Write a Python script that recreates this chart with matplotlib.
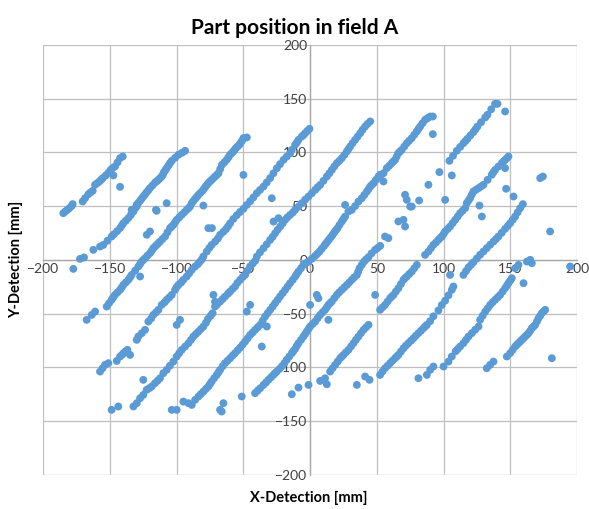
import matplotlib
matplotlib.use("Agg")
import matplotlib.pyplot as plt

# Detected part positions [mm], grouped by the diagonal row they lie on
row1_x = [-184.8, -181.8, -178.5, -177.8, -170.3, -168.5, -166.0, -162.8, -161.0, -157.8, -155.3,
          -149.3, -146.1, -142.3, -140.3, -147.3, -142.3,
          -183.3, -180.2, -164.4, -159.4, -156.5, -153.0, -151.0, -144.2, -148.0]
row1_y = [43.4, 46.5, 50.2, 51.8, 54.3, 57.4, 61.1, 64.2, 69.8, 72.9, 76.0,
          83.7, 86.8, 94.6, 96.1, 78.5, 67.9,
          45.0, 48.1, 62.7, 71.3, 74.4, 78.5, 81.0, 90.7, 85.3]

row2_x = [-177.3, -172.3, -169.3, -162.3, -157.3, -154.8, -148.6, -146.8, -142.3, -139.8, -136.1,
          -132.3, -129.8, -133.6, -129.8, -127.3, -124.9, -122.4, -119.9, -116.1, -113.6, -111.1,
          -109.4, -107.4, -104.9, -103.6, -98.6, -93.6, -115.4, -107.4,
          -151.7, -144.5, -141.0, -138.0, -134.2, -131.0, -128.6, -126.1, -123.6, -121.1, -118.0,
          -114.8, -112.3, -110.2, -108.4, -106.1, -101.0, -96.0]
row2_y = [-8.4, 0.9, 2.2, 9.3, 12.4, 13.9, 21.7, 23.9, 29.5, 34.1, 38.8,
          44.9, 49.6, 46.5, 51.2, 54.9, 58.9, 62.9, 66.7, 71.9, 74.4, 77.5,
          81.6, 85.3, 90.0, 92.1, 97.7, 101.4, 46.5, 52.7,
          17.8, 26.7, 31.8, 36.4, 41.8, 48.0, 53.0, 56.9, 60.9, 64.8, 69.3,
          73.1, 76.0, 79.5, 83.4, 87.6, 95.0, 99.5]

row3_x = [-167.3, -163.5, -161.0, -152.3, -148.6, -146.1, -142.3, -139.8, -136.1, -133.6, -128.6,
          -126.1, -123.6, -119.9, -117.4, -114.9, -112.4, -108.6, -104.9, -102.4, -99.9, -96.1,
          -92.4, -89.9, -88.6, -86.1, -83.6, -80.6, -78.2, -76.2, -73.7, -71.1, -68.6, -66.0,
          -62.5, -60.0, -57.5, -55.5, -53.0, -51.0, -49.9, -47.4,
          -127.3, -122.3, -119.9, -114.9, -79.9,
          -150.5, -147.4, -144.2, -141.0, -138.0, -134.8, -131.0, -127.3, -124.8, -121.8, -118.6,
          -116.1, -113.6, -110.5, -106.8, -103.6, -101.1, -98.0, -94.2, -91.1, -87.4, -84.8,
          -82.1, -79.4, -77.2, -75.0, -72.4, -69.8, -67.3, -64.2, -61.2, -58.7, -56.5, -54.2, -52.0]
row3_y = [-55.8, -51.2, -48.1, -43.4, -37.2, -32.6, -27.9, -23.3, -18.6, -14.0, -6.2,
          -1.6, 1.5, 6.2, 10.8, 13.9, 17.0, 21.7, 29.5, 32.6, 37.2, 41.9,
          46.5, 49.6, 52.7, 56.7, 60.5, 64.2, 68.2, 71.3, 74.4, 77.5, 80.6, 88.4,
          93.0, 97.7, 100.8, 104.0, 107.0, 110.7, 113.2, 113.8,
          -15.5, 23.3, 26.4, 45.6, 50.5,
          -40.3, -34.9, -30.2, -25.6, -21.0, -16.3, -10.0, -3.9, 0.0, 3.9, 8.5,
          12.4, 15.5, 19.4, 25.6, 31.0, 34.9, 39.5, 44.2, 48.0, 54.7, 58.6,
          62.3, 66.2, 69.8, 72.9, 76.0, 79.0, 84.5, 90.7, 95.3, 99.2, 102.4, 105.5, 108.8]

row4_x = [-157.3, -153.6, -151.1, -144.8, -142.3, -139.8, -136.8, -134.8, -129.8, -128.6, -123.6,
          -121.1, -117.4, -113.6, -111.1, -107.4, -103.6, -101.1, -98.6, -94.9, -92.4, -88.6,
          -86.1, -82.4, -79.9, -77.4, -73.7, -71.1, -67.4, -63.0, -59.9, -54.9, -49.9, -44.9,
          -39.9, -34.9, -29.9, -24.9, -19.9, -15.0, -13.7, -11.2, -8.7, -6.2, -3.7, -0.5,
          -124.9, -76.2, -73.5, -49.9, -28.7,
          -155.4, -140.9, -138.3, -126.0, -119.0, -115.5, -109.0, -105.5, -100.0, -96.5, -90.5,
          -84.0, -81.0, -75.5, -69.0, -65.0, -61.5, -57.5, -52.5, -47.5, -42.5, -37.5,
          -32.5, -27.5, -22.5, -17.5, -10.0, -5.0, -2.0]
row4_y = [-103.9, -97.7, -96.1, -94.0, -89.9, -86.8, -83.7, -88.4, -74.4, -71.3, -65.1,
          -57.4, -51.2, -46.5, -41.9, -37.2, -32.6, -27.9, -23.3, -18.6, -15.5, -9.3,
          -6.2, -1.6, 3.1, 7.7, 13.9, 17.0, 23.3, 28.5, 34.0, 41.5, 47.5, 54.5,
          62.0, 68.2, 76.0, 85.2, 93.0, 99.2, 102.3, 107.0, 111.6, 114.7, 117.8, 121.9,
          -111.6, 29.5, 29.5, 79.0, 57.3,
          -100.8, -88.4, -85.2, -68.2, -54.5, -49.0, -39.5, -35.0, -25.5, -21.0, -12.5,
          -4.0, 0.5, 11.0, 20.0, 26.0, 31.0, 38.0, 44.5, 51.0, 58.0, 65.0,
          72.0, 80.5, 89.0, 96.0, 109.0, 116.0, 120.0]

row5_x = [-148.6, -143.6, -132.3, -129.8, -127.3, -124.9, -122.4, -118.6, -116.1, -112.4, -109.9,
          -107.4, -102.4, -99.9, -96.1, -93.6, -91.1, -87.4, -83.6, -79.9, -76.5, -73.0,
          -71.2, -67.4, -63.7, -59.9, -56.2, -52.4, -48.7, -44.9, -41.2, -39.9, -34.9, -29.9,
          -26.2, -22.4, -18.7, -15.0, -11.2, -6.2, -1.2, 3.8, 7.5, 12.5, 16.3, 20.0,
          23.7, 27.5, 30.0, 33.7, 37.5, 41.2, 45.0,
          -27.4, -23.7, -72.4, -71.2, -69.9, -47.4, -44.9, -99.9, -97.4,
          -120.5, -114.2, -105.0, -98.0, -89.2, -85.5, -81.8, -78.0, -74.5, -69.5, -65.5,
          -61.5, -58.0, -54.5, -50.5, -46.8, -43.0, -37.5, -32.5, -28.0, -24.3, -20.5,
          -17.0, -13.0, -8.7, -3.7, 1.3, 5.6, 10.0, 14.4, 18.1, 21.8, 25.6,
          28.7, 31.8, 35.5, 39.3, 43.0]
row5_y = [-139.5, -136.4, -136.4, -133.3, -128.7, -125.6, -120.9, -117.8, -114.7, -110.1, -105.4,
          -102.3, -94.6, -89.9, -83.7, -80.6, -77.5, -71.3, -66.7, -62.0, -55.0, -49.6,
          -43.4, -38.8, -34.1, -29.5, -24.8, -18.6, -14.0, -6.0, -1.0, 3.1, 10.8, 18.6,
          24.8, 31.0, 37.2, 41.8, 46.5, 52.7, 58.9, 65.1, 69.7, 77.5, 83.7, 89.9,
          94.5, 100.8, 105.4, 111.6, 117.8, 124.0, 128.7,
          35.6, 38.7, -32.6, -39.0, -41.9, -48.1, -41.9, -60.5, -55.8,
          -119.4, -112.4, -98.5, -86.8, -74.4, -69.0, -64.4, -58.5, -52.0, -41.0, -36.5,
          -31.5, -27.0, -21.5, -16.0, -10.0, -3.5, 7.0, 14.5, 21.5, 28.0, 34.0,
          39.5, 44.0, 49.5, 56.0, 62.0, 67.5, 73.5, 80.5, 86.8, 92.0, 97.5,
          103.0, 108.5, 114.5, 121.0, 126.5]

row6_x = [-103.6, -99.9, -94.9, -91.1, -88.6, -86.1, -83.6, -79.9, -76.2, -73.7, -69.9,
          -67.4, -63.7, -59.9, -56.2, -52.4, -48.7, -44.9, -41.2, -37.4, -33.7, -29.9,
          -26.2, -22.5, -18.7, -15.0, -11.2, -8.7, -5.0, -1.2, 3.8, 7.0, 10.5, 13.0,
          15.5, 18.0, 20.5, 23.7, 26.2, 28.7, 31.2, 26.2, 36.2, 38.7, 42.5, 45.0,
          47.5, 51.2, 55.0, 57.4, 61.1, 63.6, 66.1, 68.6, 72.4, 76.1, 79.9, 82.4,
          86.1, 89.9, 91.9, 91.9, 52.4, 54.9,
          -64.9, -66.2, -67.4, -51.2, -36.2, -32.4,
          -81.8, -78.0, -75.0, -71.8, -68.6, -65.5, -61.8, -58.0, -54.3, -50.5, -46.8,
          -43.0, -39.3, -35.5, -31.8, -28.0, -24.3, -20.6, -16.8, -13.0, -10.0, -6.8,
          -3.0, 1.3, 5.4, 8.7, 11.7, 14.2, 16.8, 19.2, 22.0, 25.0, 33.7,
          40.6, 43.7, 46.2, 49.3, 53.0, 59.3, 62.3, 64.8, 67.3, 70.5, 74.2,
          78.0, 81.1, 84.2, 88.0]
row6_y = [-139.5, -139.5, -131.8, -133.3, -134.9, -130.2, -127.1, -122.5, -117.8, -113.2, -107.0,
          -102.3, -96.1, -91.5, -86.8, -81.6, -76.0, -69.8, -65.1, -60.5, -52.7, -46.5,
          -40.3, -34.1, -27.9, -21.7, -15.5, -10.9, -4.7, -1.6, 3.7, 7.7, 13.0, 17.0,
          21.0, 25.4, 29.4, 35.6, 40.3, 44.9, 46.5, 51.1, 54.2, 57.3, 63.5, 68.2,
          71.3, 77.5, 80.6, 85.3, 89.9, 93.0, 99.2, 102.3, 108.5, 113.2, 119.4, 124.0,
          130.2, 133.3, 133.3, 116.9, 79.1, 72.9,
          -133.3, -141.1, -139.5, -127.1, -80.6, -62.0,
          -124.8, -120.0, -115.5, -110.0, -104.6, -99.0, -93.8, -89.0, -84.2, -78.8, -73.0,
          -67.5, -62.8, -56.6, -49.6, -43.4, -37.2, -31.0, -24.8, -18.6, -13.2, -7.8,
          -3.0, 1.0, 5.7, 10.3, 15.0, 19.0, 23.2, 27.4, 32.5, 38.0, 50.0,
          60.4, 65.7, 69.7, 74.4, 79.0, 87.6, 91.5, 96.0, 100.7, 105.4, 110.8,
          116.3, 121.7, 127.1, 131.8]

row7_x = [-41.2, -37.4, -34.9, -31.2, -27.5, -25.0, -21.2, -17.5, -13.7, -11.2, -8.7,
          -5.0, -2.5, 0.0, 3.8, 7.5, 11.2, 13.7, 16.2, 20.0, 23.7, 27.5,
          31.2, 35.0, 37.0, 40.5, 43.7, 48.7, 52.5, 56.1, 58.6, 66.1, 69.9, 71.1,
          74.9, 72.4, 71.1, 76.1, 81.6, 88.6, 96.8, 104.3, 109.8, 114.8, 117.8, 122.3,
          125.3, 131.1, 132.8, 138.5, 140.3, 146.0,
          0.0, 5.0, 6.2, 13.7, 48.7, 101.1, 106.1,
          -39.3, -33.0, -29.3, -26.2, -23.0, -19.3, -15.6, -12.5, -10.0, -6.8, -3.7,
          -1.2, 1.9, 5.6, 9.3, 12.5, 15.0, 18.1, 21.8, 25.6, 29.3, 33.0,
          36.0, 38.7, 42.0, 46.0, 50.5, 107.0, 112.3, 116.3, 120.0, 123.8, 128.0, 135.6]
row7_y = [-124.0, -119.4, -116.3, -111.6, -107.0, -103.9, -99.2, -93.0, -86.8, -82.8, -77.5,
          -71.3, -66.7, -62.0, -57.4, -51.2, -46.5, -41.9, -38.8, -32.6, -27.9, -23.3,
          -18.6, -14.0, -7.8, -1.5, 2.5, 9.3, 13.0, 21.7, 20.2, 35.7, 37.2, 31.0,
          49.6, 55.8, 60.5, 49.6, 55.2, 69.8, 81.6, 92.1, 101.4, 108.5, 112.6, 118.8,
          124.0, 132.4, 134.9, 145.1, 145.1, 138.0,
          -41.9, -32.6, -35.7, -55.8, -32.6, 55.8, 78.5,
          -121.7, -114.0, -109.3, -105.4, -101.5, -96.1, -89.9, -84.8, -80.1, -74.4, -69.0,
          -64.3, -59.7, -54.3, -48.8, -44.2, -40.3, -35.7, -30.2, -25.6, -21.0, -16.3,
          -11.0, -4.6, 0.5, 6.0, 11.0, 96.7, 105.0, 110.5, 115.7, 121.4, 128.0, 140.0]

row8_x = [-13.7, -8.7, -1.2, 7.5, 11.2, 12.5, 15.0, 18.7, 22.5, 25.0, 28.7,
          32.5, 36.2, 40.0, 43.7, 52.4, 56.1, 59.9, 62.4, 66.1, 69.9, 72.4,
          76.1, 79.9, 86.1, 88.6, 92.3, 96.1, 98.6, 101.1, 104.8, 108.6, 112.3, 116.1,
          117.3, 119.8, 122.3, 126.1, 129.8, 136.0, 138.5, 143.5, 146.0, 148.5,
          35.0, 41.2, 44.5, 126.8, 128.6, 146.8, 146.0, 152.3,
          16.8, 20.6, 23.7, 26.8, 30.6, 34.3, 38.1, 41.8, 54.2, 58.0, 61.1,
          64.2, 68.0, 71.1, 74.2, 78.0, 90.5, 94.2, 97.3, 99.9, 103.0, 106.7,
          110.5, 114.2, 118.5, 121.0, 124.2, 127.9, 132.9, 137.2, 141.0, 144.8, 147.3]
row8_y = [-125.0, -118.8, -116.3, -112.6, -110.1, -115.7, -103.9, -97.7, -91.5, -88.4, -83.7,
          -77.5, -71.3, -65.1, -60.5, -46.5, -41.9, -35.7, -32.6, -26.4, -18.6, -15.5,
          -10.9, -4.7, 4.6, 7.7, 13.9, 18.6, 21.7, 26.4, 31.0, 37.2, 43.4, 48.1,
          52.7, 57.4, 63.6, 66.7, 69.8, 79.1, 83.7, 89.9, 93.0, 96.1,
          -116.3, -108.5, -111.6, 50.5, 40.3, 66.1, 85.3, 58.9,
          -100.8, -94.6, -90.0, -86.0, -80.6, -74.4, -68.2, -62.8, -44.2, -38.8, -34.1,
          -29.5, -22.5, -17.0, -13.2, -7.8, 10.8, 16.2, 20.2, 24.0, 28.7, 34.1,
          40.3, 45.7, 55.0, 60.5, 65.1, 68.2, 74.4, 81.4, 86.8, 91.5, 94.5]

row9_x = [52.4, 56.1, 59.9, 63.6, 66.1, 69.9, 73.6, 77.4, 81.1, 84.9, 87.4,
          89.9, 92.3, 96.1, 98.6, 101.1, 103.6, 106.1, 107.3, 104.8, 114.8, 118.6,
          122.3, 127.3, 132.3, 137.3, 141.0, 146.0, 149.8, 153.5, 157.3, 159.3,
          172.3, 174.3,
          54.2, 58.0, 61.7, 64.8, 68.0, 71.7, 75.5, 79.2, 83.0, 86.1,
          116.7, 120.5, 124.8, 129.8, 134.8, 139.2, 143.5, 148.0, 151.7, 155.4]
row9_y = [-107.0, -100.8, -96.1, -91.5, -88.4, -82.2, -77.5, -72.9, -68.2, -63.6, -60.5,
          -57.0, -52.5, -47.0, -42.0, -38.0, -33.0, -27.9, -24.8, -14.0, -14.0, -7.1,
          -2.2, 4.7, 10.9, 17.0, 21.7, 28.8, 34.1, 40.3, 48.1, 51.8,
          76.0, 77.5,
          -103.9, -98.5, -93.8, -90.0, -85.3, -79.8, -75.2, -70.5, -65.9, -62.0,
          -10.5, -4.7, 1.2, 7.8, 14.0, 19.4, 25.2, 31.5, 37.2, 44.2]

row10_x = [81.1, 87.4, 89.9, 92.3, 99.9, 103.6, 106.1, 109.0, 112.3, 114.8, 118.6,
           121.1, 126.1, 127.3, 131.1, 134.8, 138.5, 142.3, 146.0, 148.5, 151.0, 153.5,
           156.0, 162.3, 164.8, 166.0, 159.8,
           110.5, 116.7, 123.6, 129.2, 133.0, 136.6, 140.4, 144.2, 147.3, 149.8]
row10_y = [-110.1, -107.0, -102.3, -99.2, -99.2, -94.6, -89.9, -85.0, -80.6, -77.5, -71.3,
           -68.2, -62.0, -55.8, -48.1, -41.9, -37.2, -32.6, -26.4, -21.7, -17.1, -7.8,
           -4.7, -1.6, 0.0, -3.1, -21.7,
           -83.0, -74.4, -65.0, -52.0, -45.0, -39.5, -34.9, -29.5, -24.0, -19.4]

row11_x = [132.3, 134.8, 137.3, 147.3, 149.8, 153.5, 156.0, 158.5, 161.0, 163.5, 166.0,
           168.5, 171.0, 173.5, 176.0, 181.0, 179.7, 194.7,
           151.7, 154.8, 157.3, 159.8, 162.3, 164.8, 167.3, 169.8, 172.3, 174.8]
row11_y = [-100.8, -97.7, -94.6, -89.9, -86.8, -80.6, -77.5, -74.4, -71.3, -68.2, -63.6,
           -60.5, -54.3, -49.6, -46.5, -91.5, 26.4, -6.2,
           -83.7, -79.0, -76.0, -72.9, -69.8, -66.0, -62.0, -57.4, -52.0, -48.0]

rows_x = [row1_x, row2_x, row3_x, row4_x, row5_x, row6_x, row7_x, row8_x, row9_x, row10_x, row11_x]
rows_y = [row1_y, row2_y, row3_y, row4_y, row5_y, row6_y, row7_y, row8_y, row9_y, row10_y, row11_y]

ticks = [-200, -150, -100, -50, 0, 50, 100, 150, 200]

plt.rcParams['font.family'] = ['Lato', 'DejaVu Sans']

fig = plt.figure(figsize=(5.89, 5.09), dpi=100)
ax = fig.add_axes([0.073, 0.067, 0.907, 0.845])

for xs, ys in zip(rows_x, rows_y):
    ax.scatter(xs, ys, s=32, color='#5B9BD5', edgecolors='none', zorder=3)

ax.set_xlim(-200, 200)
ax.set_ylim(-200, 200)
ax.set_xticks(ticks)
ax.set_yticks(ticks)
ax.grid(True, color='#BFBFBF', linewidth=0.9, zorder=0)
ax.set_axisbelow(True)

# axes cross in the middle like the Excel chart
ax.spines['left'].set_position(('data', 0))
ax.spines['bottom'].set_position(('data', 0))
for side in ['left', 'bottom']:
    ax.spines[side].set_color('#A6A6A6')
    ax.spines[side].set_linewidth(0.9)
for side in ['top', 'right']:
    ax.spines[side].set_visible(False)
ax.tick_params(length=0, labelsize=10, labelcolor='#404040', pad=2)

fig.text(0.5, 0.945, 'Part position in field A', ha='center', va='center',
         fontsize=15, fontweight='bold')
fig.text(0.525, 0.022, 'X-Detection [mm]', ha='center', va='center',
         fontsize=10.5, fontweight='bold')
fig.text(0.027, 0.49, 'Y-Detection [mm]', ha='center', va='center',
         fontsize=10.5, fontweight='bold', rotation=90)

fig.savefig('out.png', dpi=100)
